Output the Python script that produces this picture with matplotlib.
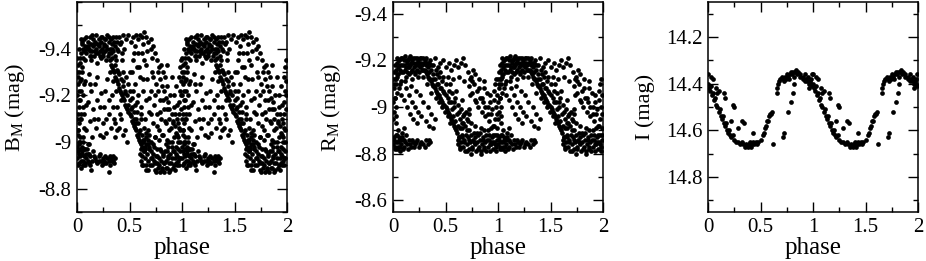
"""
Folded light curves in B, R and I, shown over two cycles of phase.
"""

import numpy as np
import matplotlib.pyplot as plt
from matplotlib.ticker import MultipleLocator

plt.rcParams["font.family"] = ["Liberation Serif", "DejaVu Serif"]
plt.rcParams["mathtext.fontset"] = "custom"
plt.rcParams["mathtext.rm"] = "Liberation Serif"
plt.rcParams["mathtext.it"] = "Liberation Serif:italic"

# ---- B_M, one cycle (phase, mag) -------------------------------------------
b_top = [(0.02, -9.40), (0.03, -9.36), (0.04, -9.38), (0.05, -9.42), (0.06, -9.40), (0.07, -9.44),
         (0.08, -9.41), (0.09, -9.38), (0.10, -9.43), (0.11, -9.40), (0.12, -9.45), (0.12, -9.37),
         (0.13, -9.42), (0.14, -9.39), (0.15, -9.44), (0.15, -9.41), (0.16, -9.37), (0.17, -9.43),
         (0.18, -9.40), (0.18, -9.46), (0.19, -9.42), (0.20, -9.38), (0.21, -9.44), (0.21, -9.41),
         (0.22, -9.39), (0.23, -9.43), (0.24, -9.45), (0.24, -9.40), (0.25, -9.37), (0.26, -9.42),
         (0.27, -9.44), (0.27, -9.39), (0.28, -9.41), (0.29, -9.46), (0.30, -9.43), (0.30, -9.38),
         (0.31, -9.40), (0.32, -9.44), (0.33, -9.42), (0.34, -9.39), (0.35, -9.43), (0.36, -9.41),
         (0.37, -9.45), (0.38, -9.40), (0.13, -9.35), (0.19, -9.34), (0.23, -9.36), (0.28, -9.35),
         (0.08, -9.35), (0.33, -9.36),
         (0.045, -9.43), (0.065, -9.39), (0.085, -9.45), (0.105, -9.41), (0.125, -9.39), (0.145, -9.46),
         (0.165, -9.42), (0.185, -9.38), (0.205, -9.42), (0.225, -9.45), (0.245, -9.38), (0.265, -9.44),
         (0.285, -9.40), (0.305, -9.45), (0.325, -9.38), (0.345, -9.45), (0.365, -9.37), (0.385, -9.43),
         (0.395, -9.39), (0.41, -9.42), (0.425, -9.38), (0.43, -9.35), (0.035, -9.44), (0.055, -9.36),
         (0.095, -9.40), (0.135, -9.37), (0.175, -9.39), (0.215, -9.37), (0.255, -9.41), (0.295, -9.37),
         (0.335, -9.40), (0.375, -9.35)]
b_arc = [(0.40, -9.45), (0.42, -9.43), (0.44, -9.46), (0.47, -9.44), (0.49, -9.46), (0.51, -9.43),
         (0.53, -9.45), (0.56, -9.46), (0.58, -9.44), (0.60, -9.46), (0.62, -9.45), (0.64, -9.47),
         (0.66, -9.45), (0.68, -9.43), (0.70, -9.44), (0.72, -9.41), (0.74, -9.38), (0.76, -9.35),
         (0.78, -9.32), (0.45, -9.40), (0.55, -9.41), (0.63, -9.42), (0.67, -9.39), (0.71, -9.36),
         (0.77, -9.30), (0.79, -9.27), (0.80, -9.33), (0.81, -9.24), (0.83, -9.22), (0.84, -9.28),
         (0.85, -9.19), (0.86, -9.24), (0.87, -9.17), (0.88, -9.14), (0.89, -9.20), (0.90, -9.12),
         (0.91, -9.09), (0.92, -9.15), (0.93, -9.07), (0.94, -9.04), (0.95, -9.10), (0.96, -9.02),
         (0.97, -9.06), (0.98, -9.00), (0.01, -9.03), (0.03, -9.00), (0.05, -8.98), (0.06, -9.02),
         (0.08, -8.97), (0.11, -8.99)]
b_rise = [(0.94, -8.98), (0.95, -9.03), (0.96, -9.08), (0.97, -9.12), (0.97, -9.17), (0.98, -9.22),
          (0.99, -9.26), (0.99, -9.14), (0.98, -9.05), (0.00, -9.30), (0.00, -9.20), (0.01, -9.33),
          (0.01, -9.25), (0.02, -9.30), (0.02, -9.15), (0.00, -9.10), (0.01, -9.05), (0.03, -9.34),
          (0.00, -8.98), (0.02, -9.22), (0.00, -9.36), (0.01, -9.12), (0.02, -9.08), (0.03, -9.18),
          (0.04, -9.27), (0.04, -9.10), (0.03, -9.02),
          (0.005, -9.28), (0.015, -9.18), (0.025, -9.26), (0.035, -9.12), (0.045, -9.32), (0.005, -9.05),
          (0.015, -9.00), (0.025, -9.10), (0.035, -9.22), (0.055, -9.15), (0.065, -9.25), (0.975, -9.28),
          (0.985, -9.32), (0.995, -9.20), (0.965, -9.00), (0.995, -9.35)]
b_streak = [(0.31, -9.35), (0.32, -9.33), (0.33, -9.32), (0.34, -9.31), (0.35, -9.30), (0.36, -9.28),
            (0.37, -9.27), (0.38, -9.26), (0.39, -9.25), (0.40, -9.23), (0.41, -9.22), (0.42, -9.21),
            (0.43, -9.20), (0.44, -9.19), (0.45, -9.18), (0.46, -9.16), (0.47, -9.15), (0.48, -9.14),
            (0.49, -9.13), (0.50, -9.12), (0.51, -9.11), (0.52, -9.09), (0.53, -9.08), (0.54, -9.07),
            (0.55, -9.06), (0.56, -9.05), (0.57, -9.03), (0.58, -9.02), (0.59, -9.01), (0.60, -9.00),
            (0.61, -8.99), (0.62, -8.98), (0.36, -9.33), (0.38, -9.31), (0.40, -9.29), (0.42, -9.27),
            (0.44, -9.24), (0.46, -9.22), (0.48, -9.20), (0.50, -9.18), (0.52, -9.15), (0.54, -9.13),
            (0.56, -9.10), (0.58, -9.08), (0.60, -9.05), (0.62, -9.03), (0.64, -9.01), (0.66, -8.99),
            (0.345, -9.26), (0.37, -9.22), (0.395, -9.30), (0.415, -9.18), (0.435, -9.26), (0.455, -9.21),
            (0.465, -9.28), (0.485, -9.16), (0.505, -9.22), (0.515, -9.14), (0.525, -9.19), (0.545, -9.10),
            (0.555, -9.16), (0.565, -9.08), (0.575, -9.13), (0.595, -9.04), (0.605, -9.10), (0.625, -9.00),
            (0.635, -9.06), (0.645, -8.97), (0.655, -9.04), (0.675, -9.01), (0.685, -8.98), (0.44, -9.30),
            (0.49, -9.25), (0.53, -9.22), (0.57, -9.17), (0.61, -9.12), (0.69, -9.03)]
b_mid = [(0.50, -9.30), (0.53, -9.35), (0.55, -9.25), (0.57, -9.32), (0.58, -9.20), (0.60, -9.28),
         (0.61, -9.15), (0.63, -9.22), (0.64, -9.35), (0.65, -9.10), (0.66, -9.18), (0.67, -9.27),
         (0.68, -9.05), (0.69, -9.13), (0.70, -9.22), (0.71, -9.30), (0.72, -9.08), (0.73, -9.16),
         (0.74, -9.02), (0.75, -9.25), (0.76, -9.12), (0.78, -9.05), (0.79, -9.18), (0.80, -9.10),
         (0.82, -9.03), (0.83, -9.14), (0.85, -9.08), (0.86, -9.01), (0.88, -9.05), (0.90, -9.00),
         (0.92, -9.02), (0.62, -9.38), (0.70, -9.40), (0.66, -9.33), (0.58, -9.38),
         (0.455, -9.05), (0.475, -9.00), (0.52, -9.30), (0.54, -9.38), (0.59, -9.32), (0.625, -9.27),
         (0.685, -9.19), (0.705, -9.12), (0.725, -9.28), (0.745, -9.20), (0.765, -9.07), (0.775, -9.22),
         (0.795, -9.13), (0.815, -9.18), (0.835, -9.09), (0.855, -9.14), (0.875, -9.10), (0.895, -9.06),
         (0.915, -9.08), (0.935, -9.12), (0.955, -9.16), (0.945, -9.24), (0.925, -9.20), (0.90, -9.28),
         (0.86, -9.33), (0.82, -9.30),
         (0.05, -9.30), (0.06, -9.20), (0.07, -9.12), (0.08, -9.26), (0.09, -9.05), (0.10, -9.17),
         (0.11, -9.29), (0.12, -9.09), (0.13, -9.22), (0.14, -9.02), (0.15, -9.14), (0.17, -9.25),
         (0.18, -9.06), (0.19, -9.18), (0.20, -9.10), (0.22, -9.03), (0.23, -9.21), (0.25, -9.08),
         (0.26, -9.15), (0.28, -9.04), (0.29, -9.27), (0.30, -9.12), (0.32, -9.06), (0.33, -9.20),
         (0.35, -9.10), (0.36, -9.02), (0.38, -9.15), (0.40, -9.06), (0.42, -9.10), (0.44, -9.03),
         (0.065, -9.06), (0.085, -9.16), (0.125, -9.25), (0.165, -9.10), (0.195, -9.28), (0.215, -9.15),
         (0.245, -9.02), (0.265, -9.22), (0.275, -9.10), (0.305, -9.18), (0.315, -9.30), (0.345, -9.15),
         (0.365, -9.08), (0.385, -9.05), (0.405, -9.12)]
b_low = [(0.00, -8.93), (0.01, -8.96), (0.02, -8.91), (0.03, -8.94), (0.04, -8.89), (0.05, -8.95),
         (0.06, -8.92), (0.07, -8.97), (0.08, -8.90), (0.09, -8.93), (0.10, -8.95), (0.11, -8.91),
         (0.12, -8.94), (0.13, -8.88), (0.14, -8.92), (0.15, -8.96), (0.17, -8.93), (0.19, -8.91),
         (0.21, -8.92), (0.22, -8.95), (0.23, -8.92), (0.24, -8.90), (0.25, -8.93), (0.26, -8.92),
         (0.27, -8.94), (0.28, -8.91), (0.29, -8.93), (0.30, -8.92), (0.31, -8.90), (0.32, -8.93),
         (0.33, -8.92), (0.34, -8.94), (0.35, -8.91), (0.36, -8.93), (0.30, -8.87), (0.02, -8.99),
         (0.06, -9.00), (0.10, -8.99),
         (0.005, -8.90), (0.015, -8.95), (0.025, -8.97), (0.035, -8.92), (0.045, -8.96), (0.055, -8.90),
         (0.065, -8.94), (0.075, -8.91), (0.085, -8.95), (0.095, -8.97), (0.105, -8.92), (0.115, -8.95),
         (0.125, -8.90), (0.16, -8.94), (0.185, -8.92), (0.205, -8.94), (0.255, -8.91), (0.315, -8.94),
         (0.345, -8.92),
         (0.60, -8.95), (0.61, -8.92), (0.62, -8.94), (0.63, -8.90), (0.64, -8.96), (0.65, -8.93),
         (0.65, -8.98), (0.66, -8.90), (0.67, -8.95), (0.68, -8.92), (0.68, -8.88), (0.69, -8.97),
         (0.70, -8.93), (0.71, -8.90), (0.72, -8.95), (0.72, -8.99), (0.73, -8.92), (0.74, -8.88),
         (0.75, -8.94), (0.76, -8.91), (0.76, -8.97), (0.77, -8.89), (0.78, -8.93), (0.79, -8.87),
         (0.80, -8.92), (0.80, -8.96), (0.81, -8.89), (0.82, -8.94), (0.83, -8.91), (0.83, -8.87),
         (0.84, -8.96), (0.85, -8.92), (0.86, -8.89), (0.87, -8.94), (0.87, -8.98), (0.88, -8.91),
         (0.89, -8.88), (0.90, -8.93), (0.91, -8.96), (0.92, -8.90), (0.93, -8.93), (0.94, -8.91),
         (0.95, -8.94), (0.96, -8.92), (0.97, -8.90), (0.98, -8.93), (0.70, -9.00), (0.78, -9.01),
         (0.85, -8.99), (0.63, -9.01),
         (0.605, -8.97), (0.615, -8.90), (0.635, -8.96), (0.655, -8.88), (0.675, -8.99), (0.695, -8.90),
         (0.705, -8.96), (0.715, -8.93), (0.735, -8.98), (0.745, -8.91), (0.755, -8.87), (0.765, -8.94),
         (0.785, -8.90), (0.795, -8.97), (0.805, -8.88), (0.815, -8.95), (0.825, -8.91), (0.845, -8.89),
         (0.855, -8.96), (0.865, -8.93), (0.875, -8.87), (0.885, -8.95), (0.895, -8.91), (0.905, -8.98),
         (0.915, -8.89), (0.925, -8.96), (0.935, -8.88), (0.945, -8.95), (0.955, -8.90), (0.965, -8.97),
         (0.975, -8.93), (0.985, -8.96), (0.74, -9.02), (0.81, -9.03), (0.88, -9.00), (0.66, -9.02)]

# ---- R_M, one cycle ------------------------------------------------------------
r_top = [(0.03, -9.16), (0.04, -9.19), (0.05, -9.17), (0.06, -9.20), (0.07, -9.18), (0.08, -9.15),
         (0.09, -9.21), (0.10, -9.18), (0.11, -9.16), (0.12, -9.20), (0.13, -9.19), (0.14, -9.17),
         (0.15, -9.21), (0.16, -9.18), (0.17, -9.15), (0.18, -9.20), (0.19, -9.19), (0.20, -9.17),
         (0.21, -9.21), (0.22, -9.18), (0.23, -9.16), (0.24, -9.20), (0.25, -9.19), (0.26, -9.17),
         (0.27, -9.21), (0.28, -9.18), (0.29, -9.16), (0.30, -9.20), (0.31, -9.18), (0.32, -9.19),
         (0.33, -9.17), (0.12, -9.13), (0.18, -9.12), (0.24, -9.13), (0.08, -9.11), (0.29, -9.13),
         (0.15, -9.14), (0.21, -9.14),
         (0.035, -9.21), (0.045, -9.14), (0.055, -9.20), (0.065, -9.16), (0.075, -9.21), (0.085, -9.18),
         (0.095, -9.15), (0.105, -9.20), (0.115, -9.22), (0.125, -9.17), (0.135, -9.15), (0.145, -9.20),
         (0.155, -9.17), (0.165, -9.22), (0.175, -9.19), (0.185, -9.16), (0.195, -9.21), (0.205, -9.15),
         (0.215, -9.19), (0.225, -9.21), (0.235, -9.18), (0.245, -9.15), (0.255, -9.21), (0.265, -9.19),
         (0.275, -9.16), (0.285, -9.21), (0.295, -9.19), (0.305, -9.16), (0.315, -9.21), (0.325, -9.15),
         (0.34, -9.19), (0.36, -9.18), (0.025, -9.12), (0.015, -9.18),
         (0.35, -9.20), (0.38, -9.18), (0.40, -9.21), (0.43, -9.17), (0.45, -9.19), (0.48, -9.20),
         (0.50, -9.17), (0.53, -9.19), (0.55, -9.16), (0.58, -9.18), (0.60, -9.20), (0.62, -9.17),
         (0.65, -9.19), (0.67, -9.21), (0.69, -9.18), (0.71, -9.15), (0.73, -9.12), (0.42, -9.14),
         (0.52, -9.13), (0.57, -9.12), (0.63, -9.13), (0.68, -9.11)]
r_streak = [(0.31, -9.15), (0.33, -9.13), (0.35, -9.12), (0.37, -9.10), (0.39, -9.09), (0.41, -9.07),
            (0.43, -9.05), (0.45, -9.04), (0.47, -9.02), (0.49, -9.01), (0.51, -8.99), (0.53, -8.97),
            (0.55, -8.95), (0.57, -8.93), (0.59, -8.91), (0.61, -8.89), (0.63, -8.87), (0.32, -9.14),
            (0.34, -9.12), (0.36, -9.11), (0.38, -9.09), (0.40, -9.08), (0.42, -9.06), (0.44, -9.05),
            (0.46, -9.03), (0.48, -9.01), (0.50, -9.00), (0.52, -8.98), (0.54, -8.96), (0.56, -8.94),
            (0.58, -8.92), (0.60, -8.90),
            (0.36, -9.16), (0.38, -9.14), (0.40, -9.12), (0.41, -9.16), (0.43, -9.10), (0.44, -9.13),
            (0.46, -9.08), (0.47, -9.11), (0.49, -9.06), (0.50, -9.10), (0.52, -9.04), (0.53, -9.07),
            (0.55, -9.02), (0.56, -9.06), (0.58, -9.00), (0.59, -9.04), (0.61, -8.97), (0.62, -9.01),
            (0.64, -8.95), (0.65, -8.99), (0.67, -8.93), (0.68, -8.97), (0.70, -8.95), (0.45, -9.15),
            (0.48, -9.13), (0.54, -9.10), (0.60, -9.07), (0.66, -9.03), (0.72, -8.99),
            (0.325, -9.10), (0.345, -9.15), (0.365, -9.06), (0.385, -9.12), (0.405, -9.04), (0.415, -9.10),
            (0.435, -9.02), (0.445, -9.08), (0.465, -9.00), (0.475, -9.07), (0.495, -8.98), (0.505, -9.05),
            (0.525, -8.96), (0.535, -9.02), (0.545, -8.93), (0.565, -8.99), (0.575, -8.96), (0.585, -9.02),
            (0.595, -8.94), (0.615, -8.92), (0.625, -8.98), (0.635, -8.91), (0.655, -8.93), (0.665, -8.96),
            (0.685, -8.92), (0.695, -8.98), (0.715, -8.94), (0.725, -8.97), (0.745, -8.93)]
r_desc = [(0.72, -9.09), (0.74, -9.13), (0.75, -9.06), (0.77, -9.10), (0.78, -9.03), (0.80, -9.07),
          (0.81, -9.00), (0.83, -9.04), (0.85, -8.98), (0.86, -9.02), (0.88, -8.96), (0.90, -9.00),
          (0.91, -8.94), (0.93, -8.97), (0.95, -8.92), (0.97, -8.95), (0.99, -8.91), (0.76, -9.16),
          (0.82, -9.12), (0.87, -9.08), (0.92, -9.05),
          (0.00, -8.95), (0.00, -9.02), (0.01, -9.08), (0.01, -8.98), (0.02, -9.12), (0.02, -9.04),
          (0.03, -9.00), (0.03, -9.10), (0.04, -9.06), (0.00, -9.12), (0.01, -9.15), (0.04, -9.14),
          (0.99, -9.05), (0.98, -9.00), (0.97, -9.10), (0.96, -9.03),
          (0.735, -9.05), (0.755, -9.11), (0.785, -9.14), (0.795, -9.02), (0.815, -9.08), (0.845, -9.04),
          (0.865, -9.11), (0.875, -9.00), (0.895, -9.06), (0.905, -8.97), (0.925, -9.02), (0.945, -8.99),
          (0.965, -9.07), (0.985, -9.12), (0.995, -8.97), (0.005, -9.10), (0.015, -9.04), (0.025, -8.96),
          (0.035, -9.13)]
r_mid = [(0.06, -9.08), (0.08, -9.05), (0.10, -9.03), (0.12, -9.08), (0.13, -9.00), (0.15, -9.05),
         (0.16, -8.97), (0.18, -9.02), (0.19, -8.95), (0.21, -9.00), (0.23, -8.93), (0.24, -8.98),
         (0.26, -9.05), (0.27, -8.96), (0.29, -9.02), (0.31, -8.94), (0.33, -9.00), (0.34, -8.92),
         (0.36, -8.97), (0.38, -8.91), (0.40, -8.95), (0.07, -9.10), (0.11, -9.11), (0.17, -9.09),
         (0.22, -9.07)]
r_low = [(0.00, -8.84), (0.01, -8.87), (0.02, -8.82), (0.03, -8.85), (0.04, -8.88), (0.05, -8.83),
         (0.06, -8.86), (0.07, -8.81), (0.08, -8.84), (0.09, -8.87), (0.10, -8.83), (0.11, -8.85),
         (0.12, -8.88), (0.13, -8.84), (0.15, -8.86), (0.17, -8.83), (0.19, -8.85), (0.21, -8.84),
         (0.23, -8.86), (0.25, -8.83), (0.27, -8.85), (0.29, -8.84), (0.31, -8.86), (0.33, -8.84),
         (0.35, -8.85), (0.05, -8.90), (0.10, -8.91), (0.03, -8.93),
         (0.005, -8.86), (0.015, -8.83), (0.025, -8.88), (0.035, -8.82), (0.045, -8.85), (0.055, -8.87),
         (0.065, -8.83), (0.075, -8.86), (0.085, -8.89), (0.095, -8.82), (0.105, -8.86), (0.14, -8.82),
         (0.16, -8.84), (0.18, -8.86), (0.20, -8.83), (0.22, -8.85), (0.26, -8.84), (0.30, -8.83),
         (0.34, -8.86),
         (0.62, -8.84), (0.63, -8.87), (0.64, -8.82), (0.65, -8.85), (0.66, -8.88), (0.67, -8.83),
         (0.68, -8.86), (0.69, -8.81), (0.70, -8.84), (0.71, -8.87), (0.72, -8.82), (0.73, -8.85),
         (0.74, -8.80), (0.75, -8.83), (0.76, -8.86), (0.77, -8.89), (0.78, -8.84), (0.79, -8.81),
         (0.80, -8.85), (0.81, -8.88), (0.82, -8.83), (0.83, -8.86), (0.84, -8.80), (0.85, -8.84),
         (0.86, -8.87), (0.87, -8.82), (0.88, -8.85), (0.89, -8.88), (0.90, -8.83), (0.91, -8.86),
         (0.92, -8.81), (0.93, -8.84), (0.94, -8.87), (0.95, -8.82), (0.96, -8.85), (0.97, -8.88),
         (0.98, -8.83), (0.99, -8.86), (0.66, -8.91), (0.72, -8.90), (0.78, -8.92), (0.84, -8.91),
         (0.90, -8.90), (0.96, -8.92),
         (0.615, -8.86), (0.635, -8.83), (0.655, -8.87), (0.675, -8.85), (0.695, -8.88), (0.705, -8.81),
         (0.725, -8.86), (0.745, -8.88), (0.755, -8.82), (0.775, -8.85), (0.785, -8.87), (0.805, -8.82),
         (0.825, -8.89), (0.835, -8.81), (0.855, -8.86), (0.865, -8.83), (0.885, -8.81), (0.895, -8.86),
         (0.915, -8.88), (0.925, -8.84), (0.945, -8.85), (0.955, -8.88), (0.975, -8.84), (0.985, -8.81),
         (0.995, -8.88), (0.70, -8.90), (0.80, -8.89), (0.87, -8.90), (0.93, -8.91)]

# ---- I, one cycle --------------------------------------------------------------
i_main = [(0.00, 14.40), (0.01, 14.42), (0.02, 14.43), (0.03, 14.41), (0.04, 14.45), (0.05, 14.44),
          (0.06, 14.47), (0.07, 14.46), (0.08, 14.49), (0.09, 14.50), (0.10, 14.52), (0.11, 14.51),
          (0.12, 14.54), (0.13, 14.55), (0.14, 14.54), (0.15, 14.57), (0.16, 14.58), (0.17, 14.57),
          (0.18, 14.60), (0.19, 14.61), (0.20, 14.60), (0.21, 14.62), (0.22, 14.63), (0.24, 14.62),
          (0.25, 14.64), (0.27, 14.65), (0.29, 14.65), (0.30, 14.66), (0.32, 14.65), (0.33, 14.66),
          (0.35, 14.67), (0.36, 14.66), (0.38, 14.67), (0.39, 14.66), (0.40, 14.65), (0.41, 14.67),
          (0.42, 14.66), (0.43, 14.65), (0.44, 14.66), (0.46, 14.65), (0.47, 14.66), (0.48, 14.65),
          (0.50, 14.64), (0.52, 14.62), (0.53, 14.61), (0.54, 14.59), (0.55, 14.58), (0.56, 14.56),
          (0.57, 14.56), (0.58, 14.54), (0.59, 14.53), (0.60, 14.53), (0.61, 14.52), (0.43, 14.61),
          (0.62, 14.66)]
i_upper = [(0.00, 14.36), (0.03, 14.37), (0.05, 14.38), (0.08, 14.42), (0.09, 14.44), (0.10, 14.43),
           (0.15, 14.44), (0.16, 14.46), (0.24, 14.49), (0.25, 14.50), (0.32, 14.56), (0.34, 14.57),
           (0.22, 14.56), (0.29, 14.59),
           (0.66, 14.42), (0.66, 14.44), (0.67, 14.40), (0.68, 14.39), (0.69, 14.38), (0.70, 14.37),
           (0.71, 14.38), (0.72, 14.39), (0.73, 14.37), (0.74, 14.38), (0.75, 14.36), (0.76, 14.37),
           (0.77, 14.38), (0.78, 14.36), (0.79, 14.35), (0.80, 14.36), (0.81, 14.35), (0.82, 14.37),
           (0.83, 14.35), (0.84, 14.34), (0.85, 14.36),
           (0.72, 14.61), (0.71, 14.63), (0.76, 14.52), (0.79, 14.48), (0.81, 14.44), (0.82, 14.40),
           (0.86, 14.35), (0.88, 14.36), (0.90, 14.37), (0.92, 14.36), (0.93, 14.38), (0.95, 14.37),
           (0.97, 14.39), (0.98, 14.38), (0.99, 14.36), (0.96, 14.42), (0.99, 14.41),
           (0.88, 14.37), (0.90, 14.38), (0.92, 14.39), (0.94, 14.39), (0.96, 14.40), (0.98, 14.40)]

b_cycle = b_top + b_arc + b_rise + b_streak + b_mid + b_low
r_cycle = r_top + r_streak + r_desc + r_mid + r_low
i_cycle = i_main + i_upper

panels = [
    (b_cycle, r"B$_\mathrm{M}$ (mag)", (-8.7, -9.6), [-9.4, -9.2, -9.0, -8.8], ["-9.4", "-9.2", "-9", "-8.8"]),
    (r_cycle, r"R$_\mathrm{M}$ (mag)", (-8.55, -9.45), [-9.4, -9.2, -9.0, -8.8, -8.6],
     ["-9.4", "-9.2", "-9", "-8.8", "-8.6"]),
    (i_cycle, "I (mag)", (14.95, 14.05), [14.2, 14.4, 14.6, 14.8], ["14.2", "14.4", "14.6", "14.8"]),
]

fig = plt.figure(figsize=(9.26, 2.61), dpi=100)
lefts = [77, 393, 708]
for (cycle, ylabel, ylim, yticks, ylabels), left in zip(panels, lefts):
    ax = fig.add_axes([left / 926, 49 / 261, 210 / 926, 210 / 261])
    pts = np.array(cycle)
    # the folded curve is drawn twice, phase 0-1 and 1-2
    phase = np.concatenate([pts[:, 0], pts[:, 0] + 1])
    mag = np.concatenate([pts[:, 1], pts[:, 1]])
    ax.plot(phase, mag, "o", color="black", ms=3.4, mec="none")

    ax.set_xlim(0, 2)
    ax.set_ylim(*ylim)
    ax.set_xticks([0, 0.5, 1, 1.5, 2])
    ax.set_xticklabels(["0", "0.5", "1", "1.5", "2"])
    ax.set_yticks(yticks)
    ax.set_yticklabels(ylabels)
    ax.xaxis.set_minor_locator(MultipleLocator(0.25))
    ax.yaxis.set_minor_locator(MultipleLocator(0.1))
    ax.tick_params(which="both", direction="in", top=True, right=True, labelsize=15, width=1, pad=4)
    ax.tick_params(which="major", length=7)
    ax.tick_params(which="minor", length=3.5)
    for sp in ax.spines.values():
        sp.set_linewidth(1.1)
    ax.set_xlabel("phase", fontsize=18, labelpad=0)
    ax.set_ylabel(ylabel, fontsize=16, labelpad=8)

plt.savefig("out.png", dpi=100)
